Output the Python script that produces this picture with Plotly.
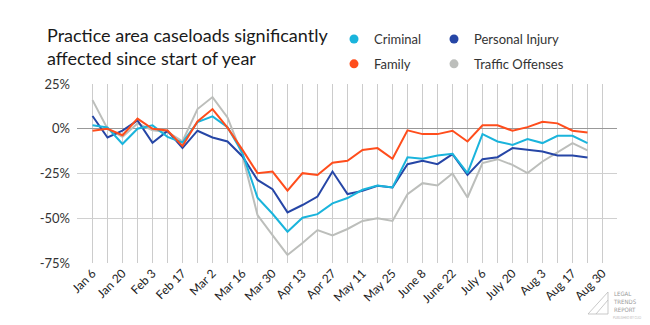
import plotly.graph_objects as go

# Week labels shown on the x axis (every second week)
tick_labels = ["Jan 6", "Jan 20", "Feb 3", "Feb 17", "Mar 2", "Mar 16", "Mar 30",
               "Apr 13", "Apr 27", "May 11", "May 25", "June 8", "June 22",
               "July 6", "July 20", "Aug 3", "Aug 17", "Aug 30"]

criminal = [1.9, 0.7, -8.5, 0.0, 1.9, -4.5, -7.7, 3.7, 6.9, 0.9, -13.6,
            -38.5, -47.5, -57.5, -49.7, -47.7, -41.7, -38.7, -34.1, -31.7, -32.8,
            -15.9, -16.8, -14.9, -14.0, -24.8, -3.0, -7.1, -9.0, -5.8, -8.0,
            -3.9, -3.9, -8.0]
family = [-1.1, 0.0, -3.6, 5.7, 0.0, -1.0, -9.6, 4.1, 11.0, 0.6, -11.8,
          -24.8, -23.9, -34.6, -24.8, -25.8, -19.0, -17.9, -11.9, -10.8, -16.8,
          -0.9, -3.0, -3.0, -1.1, -7.1, 1.9, 1.9, -1.1, 0.9, 3.9,
          3.0, -1.1, -2.1]
personal_injury = [7.1, -4.9, -1.0, 4.7, -7.9, -1.2, -10.8, -1.1, -4.9, -7.1, -15.5,
                   -28.6, -33.8, -46.7, -42.6, -37.9, -23.9, -36.5, -34.7, -31.9, -32.8,
                   -19.8, -17.9, -19.8, -14.2, -25.8, -17.0, -15.9, -10.8, -11.8, -12.7,
                   -14.9, -14.9, -16.0]
traffic = [16.0, 0.0, -4.5, 3.0, -0.8, -1.8, -7.0, 11.0, 17.7, 6.3, -15.0,
           -48.2, -59.4, -70.5, -63.8, -56.6, -59.6, -56.0, -51.5, -50.0, -51.5,
           -36.6, -30.4, -31.7, -25.0, -38.4, -19.2, -17.0, -20.2, -24.8, -18.3,
           -13.2, -8.0, -12.1]

y_ticks = [25, 0, -25, -50, -75]
y_tick_text = ["25%", "0%", "-25%", "-50%", "-75%"]

series = [
    ("Traffic Offenses", traffic, "#bcbebb", "legend2"),
    ("Personal Injury", personal_injury, "#2646a6", "legend2"),
    ("Criminal", criminal, "#1ab4dc", "legend"),
    ("Family", family, "#ff4d1c", "legend"),
]
legend_rank = {"Criminal": 1, "Family": 2, "Personal Injury": 1, "Traffic Offenses": 2}

n_weeks = len(criminal)
x = list(range(n_weeks))
n_ticks = 2 * len(tick_labels) - 1
tickvals = list(range(n_ticks))
ticktext = []
for i in range(n_ticks):
    ticktext.append(tick_labels[i // 2] if i % 2 == 0 else "")

L, R, T, B = 77, 33, 84, 62
PW, PH = 650 - L - R, 325 - T - B


def px_x(p):
    return (p - L) / PW


def px_y(p):
    return (325 - B - p) / PH


fig = go.Figure()
for name, vals, color, lg in series:
    fig.add_trace(go.Scatter(x=x, y=vals, mode="lines", name=name,
                             line=dict(color=color, width=2),
                             showlegend=False, hoverinfo="skip"))
for name, vals, color, lg in series:
    fig.add_trace(go.Scatter(x=[None], y=[None], mode="markers", name=name,
                             marker=dict(color=color, size=9),
                             legend=lg, legendgroup=name,
                             legendrank=legend_rank[name], showlegend=True))

fig.update_layout(
    width=650, height=325,
    margin=dict(l=L, r=R, t=T, b=B),
    paper_bgcolor="white", plot_bgcolor="white",
    font=dict(family="Lato, sans-serif", color="#222"),
    title=dict(text="Practice area caseloads significantly<br>affected since start of year",
               x=47/650, xanchor="left", xref="container",
               y=1 - 42/325, yanchor="top", yref="container",
               font=dict(size=18, color="#1a1a1a")),
    legend=dict(x=px_x(334), xanchor="left", y=px_y(24), yanchor="top",
                orientation="v", font=dict(size=13, color="#333"),
                tracegroupgap=5, bgcolor="rgba(0,0,0,0)"),
    legend2=dict(x=px_x(434), xanchor="left", y=px_y(24), yanchor="top",
                 orientation="v", font=dict(size=13, color="#333"),
                 tracegroupgap=5, bgcolor="rgba(0,0,0,0)"),
    xaxis=dict(range=[-1 - 1/30, 35 - 1/30], tickmode="array", tickvals=tickvals,
               ticktext=ticktext,
               tickangle=-45, showgrid=True, gridcolor="#cccccc", gridwidth=1,
               zeroline=False, showline=False, ticks="",
               tickfont=dict(size=12, color="#222")),
    yaxis=dict(range=[-75, 25], tickmode="array", tickvals=y_ticks, ticktext=y_tick_text,
               showgrid=True, gridcolor="#d0d0d0", gridwidth=1,
               zeroline=True, zerolinecolor="#999999", zerolinewidth=1,
               showline=False, ticks="", ticklabelstandoff=6,
               tickfont=dict(size=13, color="#333")),
)

# Logo text (bottom right)
fig.add_annotation(text="LEGAL<br>TRENDS<br>REPORT", xref="paper", yref="paper",
                   x=px_x(612), y=px_y(289), xanchor="left", yanchor="top",
                   showarrow=False, align="left", borderpad=0,
                   font=dict(size=6, color="#9a9a9a", family="DejaVu Sans Condensed, sans-serif"))
fig.add_annotation(text="PUBLISHED BY CLIO", xref="paper", yref="paper",
                   x=px_x(612), y=px_y(315), xanchor="left", yanchor="top",
                   showarrow=False, borderpad=0, font=dict(size=3, color="#bbbbbb"))
fig.add_shape(type="path", xref="paper", yref="paper",
              path="M {a},{b} L {c},{d} L {c},{b} Z M {e},{b} L {c},{f}".format(
                  a=px_x(588), b=px_y(314), c=px_x(608), d=px_y(292),
                  e=px_x(596), f=px_y(300)),
              line=dict(color="#bbbbbb", width=0.8))

fig.write_html("out.html")
